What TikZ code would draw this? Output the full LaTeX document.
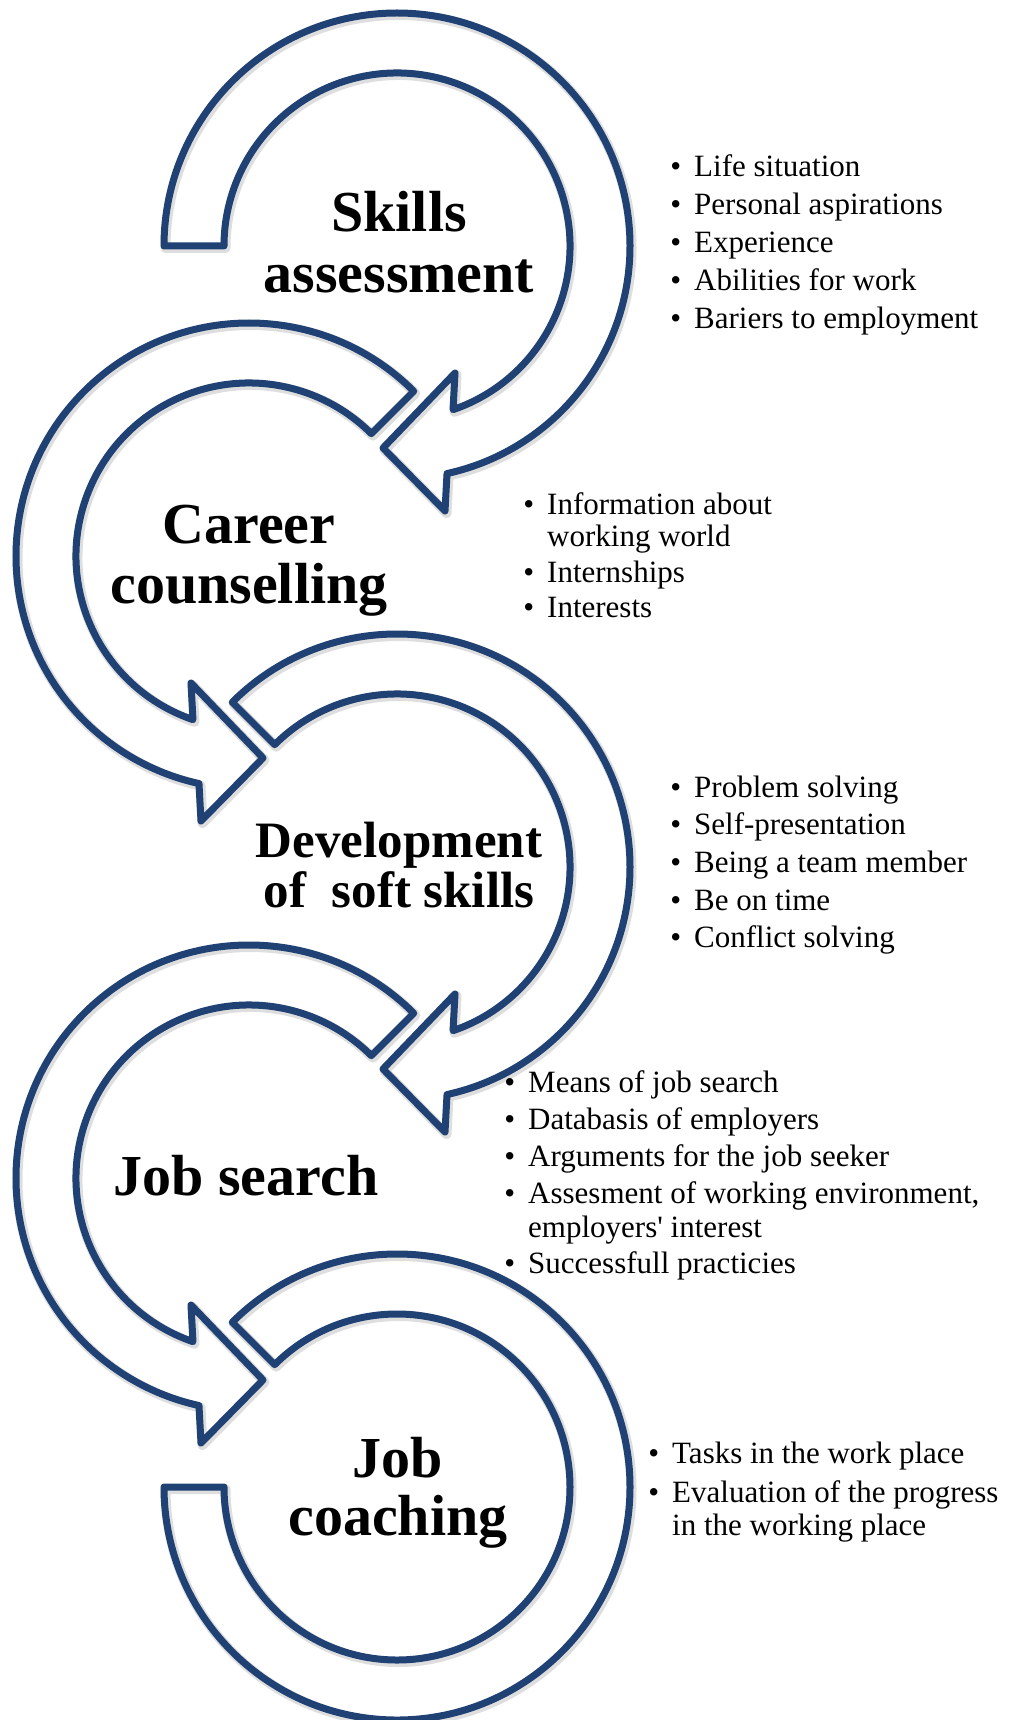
\documentclass[tikz,border=0pt]{standalone}
\usepackage{fontspec}
\setmainfont{Liberation Serif}
\definecolor{navy}{RGB}{31,65,115}

% clockwise circular arrow: centre, angle of the flat tail
\newcommand\CwArrow[2]{%
  \path[band, shift={#1}] (#2:233pt) arc[start angle=#2, end angle=-77.6, radius=233pt]
    -- (48,-265) -- (-14,-202) -- (58,-127) -- (-71.1:173pt)
    arc[start angle=-71.1, end angle=#2, radius=173pt] -- cycle;}
% counter-clockwise circular arrow: centre, angle of the flat tail
\newcommand\CcwArrow[2]{%
  \path[band, shift={#1}] (#2:233pt) arc[start angle=#2, end angle=257.6, radius=233pt]
    -- (-48,-265) -- (14,-202) -- (-58,-127) -- (251.1:173pt)
    arc[start angle=251.1, end angle=#2, radius=173pt] -- cycle;}
\newcommand\bul{\llap{\textbullet\hspace{13pt}}}

\begin{document}
\begin{tikzpicture}[x=1pt, y=1pt,
  band/.style={draw=navy, line width=7pt, line join=round,
    preaction={fill=white},
    preaction={draw=black, draw opacity=.13, line width=10pt, line join=round,
      transform canvas={shift={(1.5pt,-2pt)}}}},
  title/.style={font=\fontsize{58}{60}\selectfont\bfseries, anchor=base, inner sep=0pt},
  smalltitle/.style={title, font=\fontsize{51}{50}\selectfont\bfseries},
  item/.style={font=\fontsize{31}{34}\selectfont, anchor=base west, inner sep=0pt},
]
\useasboundingbox (0,-1720) rectangle (1010,0);

% the five stages
\CwArrow{(397,-246)}{180}
\CcwArrow{(249,-556)}{45}
\CwArrow{(397,-867)}{135}
\CcwArrow{(249,-1178)}{45}
\path[band, shift={(397,-1487)}] (180:233pt) arc[start angle=180, end angle=495, radius=233pt]
  -- (495:173pt) arc[start angle=495, end angle=180, radius=173pt] -- cycle;

% stage titles
\node[title] (t1a) at (399,-232) {Skills};
\node[title] (t1b) at (399,-292) {assessment};
\node[title] (t2a) at (249,-543) {Career};
\node[title] (t2b) at (249,-603) {counselling};
\node[smalltitle] (t3a) at (399,-857) {Development};
\node[smalltitle] (t3b) at (399,-907) {of\ \ soft skills};
\node[title] (t4) at (246,-1195) {Job search};
\node[title] (t5a) at (398,-1477) {Job};
\node[title] (t5b) at (398,-1535) {coaching};

% details of each stage
\node[item] (a1) at (694,-177) {\bul Life situation};
\node[item] (a2) at (694,-214.5) {\bul Personal aspirations};
\node[item] (a3) at (694,-252) {\bul Experience};
\node[item] (a4) at (694,-290) {\bul Abilities for work};
\node[item] (a5) at (694,-328) {\bul Bariers to employment};

\node[item] (b1) at (547,-514) {\bul Information about};
\node[item] (b1x) at (547,-546) {working world};
\node[item] (b2) at (547,-582) {\bul Internships};
\node[item] (b3) at (547,-617) {\bul Interests};

\node[item] (c1) at (694,-797) {\bul Problem solving};
\node[item] (c2) at (694,-834) {\bul Self-presentation};
\node[item] (c3) at (694,-872) {\bul Being a team member};
\node[item] (c4) at (694,-910) {\bul Be on time};
\node[item] (c5) at (694,-947) {\bul Conflict solving};

\node[item] (d1) at (528,-1092) {\bul Means of job search};
\node[item] (d2) at (528,-1129) {\bul Databasis of employers};
\node[item] (d3) at (528,-1166) {\bul Arguments for the job seeker};
\node[item] (d4) at (528,-1203) {\bul Assesment of working environment,};
\node[item] (d4x) at (528,-1237) {employers\textquotesingle\ interest};
\node[item] (d5) at (528,-1273) {\bul Successfull practicies};

\node[item] (e1) at (672,-1463) {\bul Tasks in the work place};
\node[item] (e2) at (672,-1502) {\bul Evaluation of the progress};
\node[item] (e2x) at (672,-1535) {in the working place};
\end{tikzpicture}
\end{document}
